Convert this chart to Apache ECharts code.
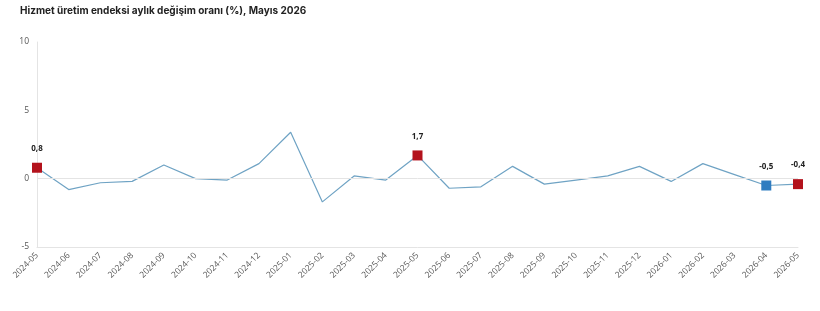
<!DOCTYPE html>
<html>
<head>
<meta charset="utf-8">
<script src="https://cdn.jsdelivr.net/npm/echarts@6/dist/echarts.min.js"></script>
<style>
html,body{margin:0;padding:0;background:#fff;}
#main{width:820px;height:311px;}
</style>
</head>
<body>
<div id="main"></div>
<script>
// aylik degisim (%)
var months = ['2024-05','2024-06','2024-07','2024-08','2024-09','2024-10','2024-11','2024-12',
  '2025-01','2025-02','2025-03','2025-04','2025-05','2025-06','2025-07','2025-08','2025-09',
  '2025-10','2025-11','2025-12','2026-01','2026-02','2026-03','2026-04','2026-05'];
var values = [0.8,-0.8,-0.3,-0.2,1.0,0.0,-0.1,1.1,3.4,-1.7,0.2,-0.1,1.7,-0.7,-0.6,0.9,-0.4,
  -0.1,0.2,0.9,-0.2,1.1,0.3,-0.5,-0.4];
var redPoints = ['2024-05','2025-05','2026-05'];
var bluePoints = ['2026-04'];

var seriesData = [];
for(var i=0;i<values.length;i++){
    var p = {value:values[i]};
    var c = null;
    if(redPoints.indexOf(months[i])>=0) c = '#b3121c';
    if(bluePoints.indexOf(months[i])>=0) c = '#2f7cc0';
    if(c){
        p.symbol = 'rect';
        p.symbolSize = 10;
        p.itemStyle = {color:c};
        p.label = {show:true};
    }
    seriesData.push(p);
}

var myChart = echarts.init(document.getElementById('main'));
var option = {
    animation:false,
    title:{
        text:'Hizmet üretim endeksi aylık değişim oranı (%), Mayıs 2026',
        left:15, top:1,
        textStyle:{fontFamily:'Inter',fontSize:10,fontWeight:'bold',color:'#222'}
    },
    grid:{left:37,right:22,top:42,bottom:64,containLabel:false},
    xAxis:{
        type:'category',
        boundaryGap:false,
        data:months,
        axisLine:{onZero:false,lineStyle:{color:'#e4e4e4'}},
        axisTick:{show:false},
        axisLabel:{rotate:45,fontSize:8.5,color:'#555',fontFamily:'Open Sans',margin:7,interval:0}
    },
    yAxis:{
        type:'value',
        min:-5,max:10,interval:5,
        axisLine:{show:true,lineStyle:{color:'#e4e4e4'}},
        axisTick:{show:false},
        splitLine:{show:false},
        axisLabel:{fontSize:8.5,color:'#555',fontFamily:'Open Sans',margin:8}
    },
    series:[{
        type:'line',
        data:seriesData,
        symbol:'none',
        showSymbol:true,
        lineStyle:{color:'#6fa3c4',width:1.2},
        itemStyle:{color:'#6fa3c4'},
        label:{
            show:false,position:'top',distance:10,
            fontSize:8,fontWeight:'bold',color:'#222',fontFamily:'Open Sans',
            formatter:function(p){return String(p.value).replace('.',',');}
        },
        markLine:{
            silent:true,symbol:'none',label:{show:false},
            lineStyle:{color:'#e4e4e4',type:'solid',width:1},
            data:[{yAxis:0}]
        },
        z:3
    }]
};
myChart.setOption(option);
</script>
</body>
</html>
